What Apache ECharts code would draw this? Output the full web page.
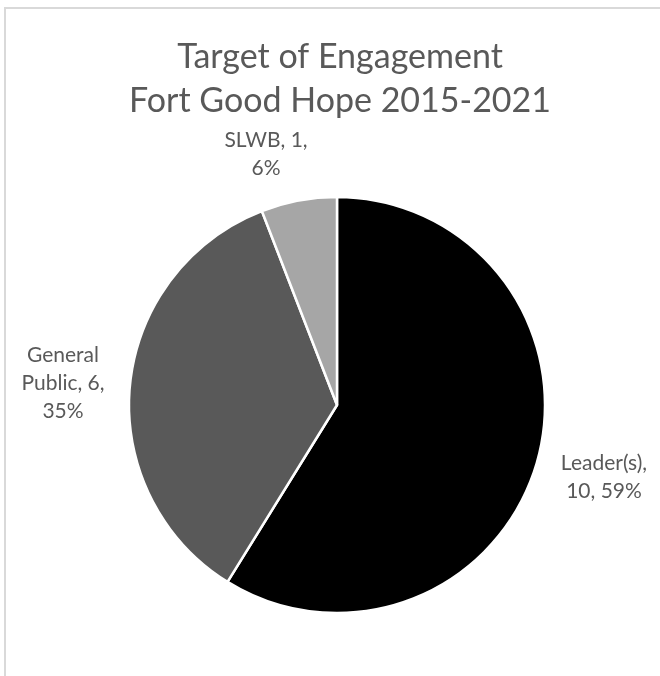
<!DOCTYPE html>
<html>
<head>
<meta charset="utf-8">
<script src="https://cdn.jsdelivr.net/npm/echarts@6/dist/echarts.min.js"></script>
<style>
  html, body { margin: 0; padding: 0; background: #ffffff; }
  #wrap { position: relative; width: 660px; height: 676px; }
  #chart { position: absolute; left: 0; top: 0; width: 660px; height: 676px; }
  #frame { position: absolute; left: 4px; top: 7px; width: 660px; height: 676px;
           border-left: 2px solid #d9d9d9; border-top: 2px solid #d9d9d9; pointer-events: none; }
</style>
</head>
<body>
<div id="wrap">
  <div id="chart"></div>
  <div id="frame"></div>
</div>
<script>
// ---- data ----
var categories = ['Leader(s)', 'General Public', 'SLWB'];
var values = [10, 6, 1];
var titleLines = ['Target of Engagement', 'Fort Good Hope 2015-2021'];

// ---- styles / positions ----
var sliceColors = ['#000000', '#595959', '#a6a6a6'];
var labelCenters = [[604, 477], [63, 383], [266, 154]];

function labelText(p) {
  if (p.dataIndex === 0) return p.name + ',\n' + p.value + ', ' + p.percent + '%';
  if (p.dataIndex === 1) return p.name.replace(' ', '\n') + ', ' + p.value + ',\n' + p.percent + '%';
  return p.name + ', ' + p.value + ',\n' + p.percent + '%';
}

var chart = echarts.init(document.getElementById('chart'), null, { renderer: 'canvas' });
chart.setOption({
  backgroundColor: '#ffffff',
  animation: false,
  title: {
    text: titleLines.join('\n'),
    left: 335,
    textAlign: 'center',
    top: 30,
    textStyle: {
      fontFamily: 'Lato',
      fontSize: 34,
      fontWeight: 'normal',
      color: '#595959',
      lineHeight: 44
    }
  },
  series: [{
    type: 'pie',
    center: [337, 405],
    radius: [0, 208],
    startAngle: 90,
    clockwise: true,
    percentPrecision: 0,
    data: categories.map(function (c, i) {
      return { name: c, value: values[i], itemStyle: { color: sliceColors[i] } };
    }),
    itemStyle: { borderColor: '#ffffff', borderWidth: 2.5 },
    label: {
      show: true,
      position: 'outside',
      formatter: labelText,
      fontFamily: 'Lato',
      fontSize: 21,
      color: '#595959',
      lineHeight: 28,
      align: 'center',
      overflow: 'none',
      width: 200
    },
    labelLine: { show: false },
    labelLayout: function (p) {
      var c = labelCenters[p.dataIndex];
      return { x: c[0], y: c[1], align: 'center', verticalAlign: 'middle' };
    },
    emphasis: { disabled: true }
  }]
});
</script>
</body>
</html>
